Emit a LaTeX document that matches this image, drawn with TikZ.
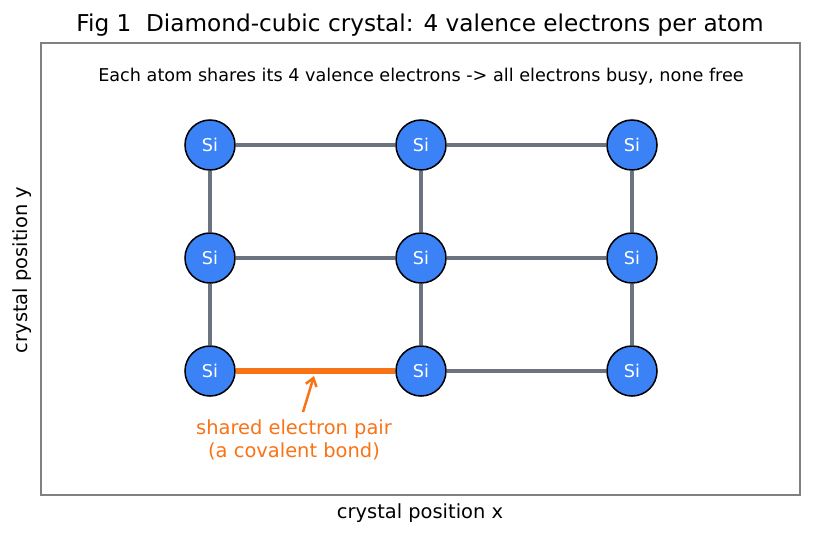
\documentclass[tikz,border=0pt]{standalone}
\usepackage{fontspec}
\setmainfont{DejaVu Sans}
\usetikzlibrary{arrows.meta}
\definecolor{atomblue}{HTML}{3B82F6}
\definecolor{bondgray}{HTML}{6B7280}
\definecolor{pairorange}{HTML}{F97316}
\tikzset{
	atom/.style={circle,draw=black,line width=1.1pt,fill=atomblue,minimum size=36pt,inner sep=0pt,text=white,font=\fontsize{12.7}{15}\selectfont},
	bond/.style={draw=bondgray,line width=2.2pt},
	pair/.style={draw=pairorange,line width=4.3pt},
}
\begin{document}
\begin{tikzpicture}[x=0.72pt,y=-0.72pt]
			\useasboundingbox (0,0) rectangle (814,537);
			\draw[gray,line width=0.9pt] (41,43) rectangle (800,495);
			\node (title) at (420,25) {\fontsize{16.7}{20}\selectfont Fig 1\ \ Diamond-cubic crystal: 4 valence electrons per atom};
			\node (note) at (421,77) {\fontsize{12.7}{15}\selectfont Each atom shares its 4 valence electrons -> all electrons busy, none free};
			\node (xlab) at (420,513) {\fontsize{14}{17}\selectfont crystal position x};
			\node[rotate=90] (ylab) at (22,270) {\fontsize{14}{17}\selectfont crystal position y};
			\node[atom] (a11) at (210,145) {Si};
			\node[atom] (a21) at (421,145) {Si};
			\node[atom] (a31) at (632,145) {Si};
			\node[atom] (a12) at (210,258) {Si};
			\node[atom] (a22) at (421,258) {Si};
			\node[atom] (a32) at (632,258) {Si};
			\node[atom] (a13) at (210,371) {Si};
			\node[atom] (a23) at (421,371) {Si};
			\node[atom] (a33) at (632,371) {Si};
			\draw[bond] (a11) -- (a21);
			\draw[bond] (a21) -- (a31);
			\draw[bond] (a12) -- (a22);
			\draw[bond] (a22) -- (a32);
			\draw[bond] (a23) -- (a33);
			\draw[bond] (a11) -- (a12);
			\draw[bond] (a12) -- (a13);
			\draw[bond] (a21) -- (a22);
			\draw[bond] (a22) -- (a23);
			\draw[bond] (a31) -- (a32);
			\draw[bond] (a32) -- (a33);
			\draw[pair] (a13) -- (a23);
			\node[text=pairorange,align=center,font=\fontsize{14}{17}\selectfont] (label) at (294,440) {shared electron pair\\(a covalent bond)};
			\coordinate (tail) at (303,412);
			\coordinate (tip) at (314,376);
			\draw[pairorange,line width=1.8pt,-{Straight Barb[length=5.5pt,width=8pt]}] (tail) -- (tip);
		\end{tikzpicture}
\end{document}
